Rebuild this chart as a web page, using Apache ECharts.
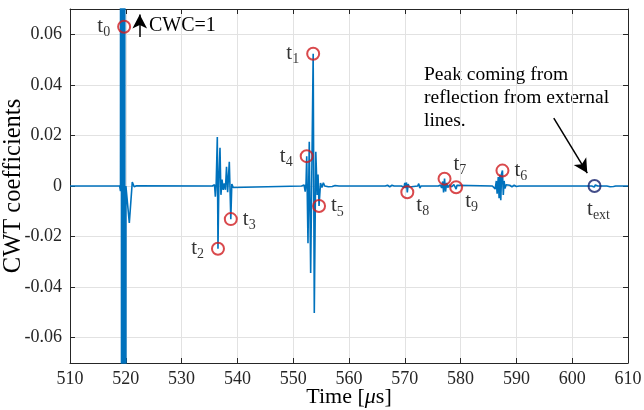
<!DOCTYPE html>
<html>
<head>
<meta charset="utf-8">
<title>CWT coefficients</title>
<script src="https://cdn.jsdelivr.net/npm/echarts@6/dist/echarts.min.js"></script>
<style>
html,body{margin:0;padding:0;background:#fff;}
#main{width:644px;height:410px;}
</style>
</head>
<body>
<div id="main"></div>
<script>
//CWT trace (time in us)
var timeUs=[510,518.9,519.05,519.15,519.3,519.45,519.6,519.75,519.9,520.02,520.25,520.63,521.16,521.5,521.9,
	535.5,535.9,536.05,536.2,536.4,536.52,536.7,536.88,537.05,537.25,537.45,537.65,537.85,538.05,538.25,538.55,538.82,539,539.25,539.5,
	551.5,551.95,552.15,552.3,552.42,552.65,552.88,553.13,553.58,553.78,554.05,554.3,554.45,554.63,554.9,555.15,555.4,555.65,556,556.3,556.6,557,557.5,558.2,
	566.5,566.9,567.3,567.7,568.1,569.4,569.7,569.85,570,570.15,570.3,570.45,570.6,570.8,571,572.3,572.5,572.7,572.9,
	576,576.4,576.6,576.8,576.95,577.12,577.3,577.5,577.7,578,578.4,578.8,579.05,579.2,579.35,579.6,
	585.7,586,586.2,586.4,586.55,586.75,586.9,587.05,587.2,587.35,587.5,587.65,587.8,587.95,588.15,588.4,588.8,589.2,589.6,590,590.5,
	603.5,603.75,603.95,604.15,604.35,604.6,606.2,606.5,606.8,607.1,607.4,607.8,610];
var cwt=[0,0,-0.002,1,-1,1,-1,1,-1,0,0.0006,-0.0146,0.0016,-0.0003,0.0001,
	0,0.0005,-0.0042,0.001,0.0194,-0.0248,0.004,0.0151,-0.0035,0.0025,-0.0015,0.001,-0.0015,0.0076,-0.0025,0.0096,-0.0131,0.0008,-0.0006,0,
	0,0.0004,-0.0022,0.001,0.0118,-0.0226,0.0175,-0.0344,0.0523,-0.0502,0.0135,-0.0035,0.0045,-0.0079,0.0012,-0.0006,0.0013,0,0.0004,-0.0003,0.0003,-0.0002,0.0002,0,
	0,0.0003,-0.0003,0.0003,0,0,0.0004,-0.0006,0.0012,-0.0008,0.0014,-0.0025,0.0008,-0.0004,0,0,0.0009,-0.0008,0,
	0,0.0004,-0.0008,0.0018,-0.0025,0.0029,-0.0022,0.0012,-0.0006,0.0004,-0.0003,0.0006,0.0008,-0.0012,0.0003,0,
	0,0.0005,-0.0012,0.002,-0.003,0.0035,-0.0048,0.0045,-0.0056,0.005,0.0061,-0.0035,0.002,-0.001,0.0005,0,0.0003,-0.0003,0.0003,-0.0002,0,
	0,0.0004,-0.0004,0.0004,-0.0002,0,0,0.0003,-0.0003,0.0003,-0.0002,0,0];

//picked peaks t0..t9, t_ext
var peakNames=['0','1','2','3','4','5','6','7','8','9','ext'];
var peakTimes=[519.7,553.58,536.52,538.82,552.42,554.63,587.5,577.12,570.45,579.2,604];
var peakValues=[0.063,0.0523,-0.0248,-0.0131,0.0118,-0.0079,0.0061,0.0029,-0.0025,-0.0005,0];

//ticks
var xTicks=[510,520,530,540,550,560,570,580,590,600,610];
var yTicks=[-0.06,-0.04,-0.02,0,0.02,0.04,0.06];

//arrows [start,end]
var cwcArrow=[[522.5,0.0589],[522.5,0.0678]];
var extArrow=[[596.7,0.0268],[602.7,0.0051]];

var serif='"Liberation Serif", "Times New Roman", serif';
var axisColor='#262626';

var lineData=[];
for(var i=0;i<timeUs.length;i++){
	lineData.push([timeUs[i],cwt[i]]);
}

//label placement for each peak
var labelPos={
	'0':{position:'left',distance:7},
	'1':{position:'left',distance:7},
	'2':{position:'left',distance:7},
	'3':{position:'right',distance:5},
	'4':{position:'left',distance:7},
	'5':{position:'right',distance:5},
	'6':{position:'right',distance:5},
	'7':{position:'right',distance:2,offset:[0,-14]},
	'8':{position:'right',distance:2,offset:[0,13]},
	'9':{position:'right',distance:2,offset:[0,14]},
	'ext':{position:'bottom',distance:3,offset:[4,0]}
};
var peakData=[];
for(var i=0;i<peakNames.length;i++){
	var p=labelPos[peakNames[i]];
	peakData.push({
		name:peakNames[i],
		value:[peakTimes[i],peakValues[i]],
		itemStyle:{borderColor:peakNames[i]=='ext'?'#14206b':'#d01c1f'},
		label:{position:p.position,distance:p.distance,offset:p.offset||[0,0]}
	});
}

var myChart=echarts.init(document.getElementById('main'),null,{renderer:'canvas'});
var option={
	animation:false,
	backgroundColor:'#fff',
	grid:{left:70,right:16,top:9,bottom:47,outerBoundsMode:'none'},
	xAxis:[{
		type:'value',min:510,max:610,interval:10,
		name:'Time [{i|μ}s]',nameLocation:'middle',nameGap:23,nameMoveOverlap:false,
		nameTextStyle:{fontFamily:serif,fontSize:22,color:'#000',
			rich:{i:{fontFamily:serif,fontSize:22,fontStyle:'italic',color:'#000'}}},
		axisLine:{show:true,onZero:false,lineStyle:{color:axisColor,width:1}},
		axisTick:{show:true,inside:true,length:5,lineStyle:{color:axisColor}},
		axisLabel:{fontFamily:serif,fontSize:18,color:axisColor,margin:7},
		splitLine:{show:true,lineStyle:{color:'#e2e2e2',width:1}}
	},{
		type:'value',position:'top',min:510,max:610,interval:10,
		axisLine:{show:true,onZero:false,lineStyle:{color:axisColor,width:1}},
		axisTick:{show:true,inside:true,length:5,lineStyle:{color:axisColor}},
		axisLabel:{show:false},
		splitLine:{show:false}
	}],
	yAxis:[{
		type:'value',min:-0.07,max:0.07,
		name:'CWT coefficients',nameLocation:'middle',nameGap:44,nameMoveOverlap:false,
		nameTextStyle:{fontFamily:serif,fontSize:24.5,color:'#000'},
		axisLine:{show:true,onZero:false,lineStyle:{color:axisColor,width:1}},
		axisTick:{show:true,inside:true,length:5,customValues:yTicks,lineStyle:{color:axisColor}},
		axisLabel:{fontFamily:serif,fontSize:18,color:axisColor,margin:8,customValues:yTicks,
			formatter:function(v){
				if(Math.abs(v)<1e-9)return '0';
				return v.toFixed(2);
			}},
		splitLine:{show:true,lineStyle:{color:'#e2e2e2',width:1}}
	},{
		type:'value',position:'right',min:-0.07,max:0.07,
		axisLine:{show:true,onZero:false,lineStyle:{color:axisColor,width:1}},
		axisTick:{show:true,inside:true,length:5,customValues:yTicks,lineStyle:{color:axisColor}},
		axisLabel:{show:false,customValues:yTicks},
		splitLine:{show:false}
	}],
	series:[{
		name:'CWT',
		type:'line',
		data:lineData,
		showSymbol:false,
		clip:true,
		lineStyle:{color:'#0072bd',width:1.6},
		itemStyle:{color:'#0072bd'},
		markLine:{
			silent:true,
			symbol:['none','arrow'],
			symbolSize:[11,14],
			label:{show:false},
			lineStyle:{color:'#000',width:1.5,type:'solid'},
			data:[
				[{coord:cwcArrow[0]},{coord:cwcArrow[1]}],
				[{coord:extArrow[0]},{coord:extArrow[1]}]
			]
		}
	},{
		name:'peaks',
		type:'scatter',
		data:peakData,
		symbol:'circle',
		symbolSize:12,
		itemStyle:{color:'rgba(255,255,255,0)',borderWidth:2},
		label:{
			show:true,
			formatter:function(p){
				return '{t|t}{s|'+p.name+'}';
			},
			rich:{
				t:{fontFamily:serif,fontSize:21,color:'#000',lineHeight:26},
				s:{fontFamily:serif,fontSize:14,color:'#000',lineHeight:14,verticalAlign:'bottom'}
			}
		},
		z:5
	}],
	graphic:[{
		type:'text',left:149,top:16,
		style:{text:'CWC=1',font:'20px '+serif,fill:'#000'}
	},{
		type:'text',left:424,top:63,
		style:{text:'Peak coming from\nreflection from external\nlines.',font:'19.5px '+serif,fill:'#000',lineHeight:23}
	}]
};
myChart.setOption(option);
</script>
</body>
</html>
